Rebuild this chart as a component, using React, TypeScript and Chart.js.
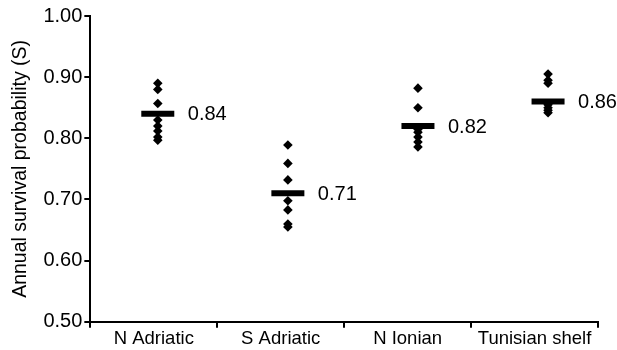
import React, { useEffect, useRef } from "react";
import { Chart, registerables } from "chart.js";

Chart.register(...registerables);

const categories = ["N Adriatic", "S Adriatic", "N Ionian", "Tunisian shelf"];
const nAdriatic = [0.89, 0.88, 0.857, 0.83, 0.82, 0.812, 0.802, 0.797];
const sAdriatic = [0.789, 0.759, 0.732, 0.698, 0.683, 0.66, 0.655];
const nIonian = [0.882, 0.85, 0.815, 0.81, 0.802, 0.794, 0.786];
const tunisian = [0.905, 0.895, 0.89, 0.855, 0.85, 0.846, 0.842];
const means = [0.84, 0.71, 0.82, 0.86];
const yTicks = [0.5, 0.6, 0.7, 0.8, 0.9, 1.0];

const FONT = "'Liberation Sans', Arial, sans-serif";

export default function App() {
  const ref = useRef<HTMLCanvasElement | null>(null);
  useEffect(() => {
    if (!ref.current) return;
    const groups = [nAdriatic, sAdriatic, nIonian, tunisian];
    const pts: { x: number; y: number }[] = [];
    groups.forEach((g, i) => g.forEach((v) => pts.push({ x: i, y: v })));
    const meanPts = means.map((m, i) => ({ x: i, y: m }));

    const labelPlugin = {
      id: "meanLabels",
      afterDatasetsDraw(chart: any) {
        const ctx = chart.ctx;
        const meta = chart.getDatasetMeta(0);
        ctx.save();
        ctx.fillStyle = "#000";
        ctx.font = "20px " + FONT;
        ctx.textBaseline = "middle";
        ctx.textAlign = "left";
        meta.data.forEach((el: any, i: number) => {
          ctx.fillText(means[i].toFixed(2), el.x + 30, el.y + 1);
        });
        ctx.restore();
      },
    };

    const chart = new Chart(ref.current, {
      type: "scatter",
      data: {
        datasets: [
          {
            data: meanPts,
            xAxisID: "xd",
            pointStyle: "line",
            radius: 16.5,
            borderWidth: 6,
            borderColor: "#000",
            backgroundColor: "#000",
          } as any,
          {
            data: pts,
            xAxisID: "xd",
            pointStyle: "rectRot",
            radius: 4.8,
            borderWidth: 0,
            backgroundColor: "#000",
            borderColor: "#000",
          } as any,
        ],
      },
      options: {
        animation: false,
        responsive: true,
        maintainAspectRatio: false,
        layout: { autoPadding: false, padding: { top: 16, right: 19, bottom: 0, left: 9 } },
        plugins: { legend: { display: false }, tooltip: { enabled: false } },
        scales: {
          xd: {
            type: "linear",
            position: "bottom",
            display: false,
            min: -0.5186,
            max: 3.384,
          },
          x: {
            type: "category",
            position: "bottom",
            labels: categories,
            offset: true,
            afterFit: (s: any) => {
              s.paddingRight = 0;
              s.paddingLeft = 0;
            },
            grid: {
              offset: true,
              drawOnChartArea: false,
              drawTicks: true,
              tickLength: 6,
              color: "#000",
              lineWidth: 2,
            },
            border: { color: "#000", width: 2 },
            ticks: { color: "#000", font: { family: FONT, size: 18.5 }, padding: 0, maxRotation: 0, autoSkip: false },
          },
          y: {
            type: "linear",
            min: 0.5,
            max: 1.0,
            afterBuildTicks: (axis: any) => {
              axis.ticks = yTicks.map((v) => ({ value: v }));
            },
            afterFit: (s: any) => {
              s.paddingTop = 0;
              s.paddingBottom = 0;
            },
            grid: {
              drawOnChartArea: false,
              drawTicks: true,
              tickLength: 6,
              color: "#000",
              lineWidth: 2,
            },
            border: { color: "#000", width: 2 },
            ticks: {
              color: "#000",
              font: { family: FONT, size: 20 },
              padding: 2,
              callback: (v: any) => Number(v).toFixed(2),
            },
            title: {
              display: true,
              text: "Annual survival probability (S)",
              color: "#000",
              font: { family: FONT, size: 19.5 },
              padding: { top: 0, bottom: 9 },
            },
          },
        },
      },
      plugins: [labelPlugin],
    } as any);
    return () => chart.destroy();
  }, []);

  return (
    <div style={{ position: "fixed", left: 0, top: 0, width: 617, height: 350, background: "#fff" }}>
      <canvas ref={ref} />
    </div>
  );
}
